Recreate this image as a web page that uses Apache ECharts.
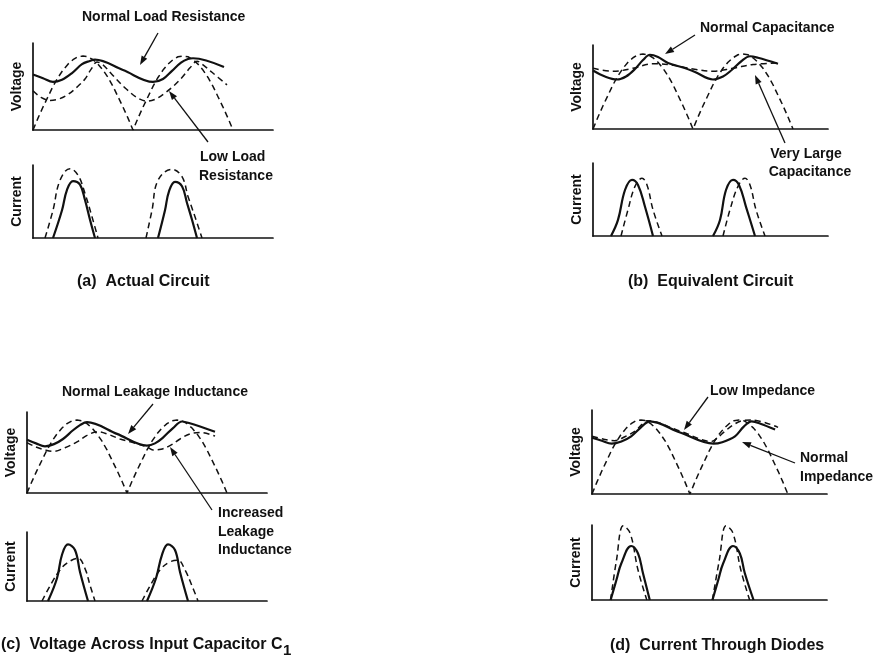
<!DOCTYPE html>
<html>
<head>
<meta charset="utf-8">
<script src="https://cdn.jsdelivr.net/npm/echarts@6/dist/echarts.min.js"></script>
<style>
  html, body { margin: 0; padding: 0; background: #fff; }
  #chart { width: 876px; height: 656px; }
</style>
</head>
<body>
<div id="chart"></div>
<script>
// x in half-cycles of the line voltage, y relative to peak
const fullWave = [
  [0, 0], [0.05, 0.16], [0.1, 0.31], [0.15, 0.45], [0.2, 0.59], [0.25, 0.71], [0.3, 0.81],
  [0.35, 0.89], [0.4, 0.95], [0.45, 0.99], [0.5, 1], [0.55, 0.99], [0.6, 0.95], [0.65, 0.89],
  [0.7, 0.81], [0.75, 0.71], [0.8, 0.59], [0.85, 0.45], [0.9, 0.31], [0.95, 0.16], [1, 0],
  [1.05, 0.16], [1.1, 0.31], [1.15, 0.45], [1.2, 0.59], [1.25, 0.71], [1.3, 0.81],
  [1.35, 0.89], [1.4, 0.95], [1.45, 0.99], [1.5, 1], [1.55, 0.99], [1.6, 0.95], [1.65, 0.89],
  [1.7, 0.81], [1.75, 0.71], [1.8, 0.59], [1.85, 0.45], [1.9, 0.31], [1.95, 0.16], [2, 0]
];

// (a) actual circuit
const aVoltNormal = [[0, 0.75], [0.1, 0.7], [0.2, 0.65], [0.29, 0.68], [0.39, 0.77], [0.49, 0.89], [0.56, 0.93], [0.62, 0.95], [0.9, 0.81], [1.2, 0.65], [1.3, 0.69], [1.39, 0.8], [1.48, 0.91], [1.55, 0.96], [1.6, 0.97], [1.91, 0.85]];
const aVoltLowLoad = [[0, 0.53], [0.08, 0.44], [0.17, 0.4], [0.26, 0.42], [0.35, 0.48], [0.44, 0.58], [0.52, 0.69], [0.58, 0.82], [0.64, 0.92], [0.7, 0.88], [0.79, 0.75], [0.92, 0.57], [1.05, 0.43], [1.14, 0.39], [1.23, 0.42], [1.32, 0.5], [1.41, 0.6], [1.49, 0.71], [1.57, 0.84], [1.64, 0.93], [1.71, 0.87], [1.79, 0.78], [1.94, 0.61]];
const aCurNormal = [
  [[0.2, 0], [0.29, 0.38], [0.34, 0.66], [0.4, 0.78], [0.47, 0.73], [0.52, 0.52], [0.57, 0.25], [0.62, 0]],
  [[1.25, 0], [1.32, 0.38], [1.36, 0.64], [1.42, 0.77], [1.49, 0.71], [1.54, 0.48], [1.59, 0.25], [1.64, 0]]
];
const aCurLowLoad = [
  [[0.12, 0], [0.2, 0.38], [0.27, 0.79], [0.37, 0.95], [0.45, 0.86], [0.52, 0.61], [0.59, 0.29], [0.65, 0]],
  [[1.13, 0], [1.19, 0.38], [1.25, 0.79], [1.39, 0.94], [1.49, 0.84], [1.55, 0.57], [1.62, 0.29], [1.69, 0]]
];

// (b) equivalent circuit
const bVoltNormal = [[0, 0.78], [0.12, 0.7], [0.24, 0.66], [0.33, 0.7], [0.42, 0.8], [0.5, 0.92], [0.57, 0.99], [0.65, 0.96], [0.75, 0.88], [0.9, 0.82], [1.02, 0.76], [1.2, 0.66], [1.3, 0.7], [1.39, 0.79], [1.48, 0.9], [1.57, 0.97], [1.65, 0.95], [1.85, 0.87]];
const bVoltLargeCap = [[0, 0.81], [0.2, 0.77], [0.4, 0.81], [0.6, 0.87], [0.8, 0.85], [1.0, 0.8], [1.2, 0.77], [1.4, 0.81], [1.6, 0.86], [1.85, 0.88]];
const bCurNormal = [
  [[0.18, 0], [0.25, 0.22], [0.32, 0.63], [0.39, 0.77], [0.45, 0.7], [0.52, 0.4], [0.6, 0]],
  [[1.2, 0], [1.27, 0.22], [1.33, 0.63], [1.4, 0.77], [1.46, 0.7], [1.53, 0.4], [1.62, 0]]
];
const bCurLargeCap = [
  [[0.28, 0], [0.35, 0.36], [0.42, 0.68], [0.49, 0.79], [0.54, 0.7], [0.6, 0.36], [0.69, 0]],
  [[1.3, 0], [1.37, 0.36], [1.45, 0.68], [1.52, 0.79], [1.57, 0.7], [1.63, 0.36], [1.72, 0]]
];

// (c) leakage inductance
const cVoltNormal = [[0, 0.73], [0.09, 0.68], [0.18, 0.64], [0.27, 0.67], [0.36, 0.74], [0.46, 0.86], [0.53, 0.93], [0.6, 0.97], [0.9, 0.81], [1.2, 0.65], [1.28, 0.68], [1.36, 0.76], [1.46, 0.89], [1.55, 0.98], [1.62, 0.96], [1.88, 0.84]];
const cVoltLeakage = [[0, 0.69], [0.09, 0.63], [0.18, 0.59], [0.26, 0.57], [0.38, 0.62], [0.5, 0.7], [0.6, 0.79], [0.71, 0.84], [0.82, 0.8], [0.93, 0.74], [1.06, 0.69], [1.2, 0.63], [1.26, 0.59], [1.34, 0.6], [1.43, 0.65], [1.53, 0.74], [1.63, 0.81], [1.73, 0.83], [1.88, 0.78]];
const cCurNormal = [
  [[0.21, 0], [0.3, 0.33], [0.35, 0.67], [0.41, 0.82], [0.48, 0.74], [0.53, 0.42], [0.61, 0]],
  [[1.2, 0], [1.29, 0.33], [1.35, 0.67], [1.41, 0.82], [1.48, 0.74], [1.53, 0.42], [1.61, 0]]
];
const cCurLeakage = [
  [[0.15, 0], [0.25, 0.27], [0.33, 0.45], [0.4, 0.55], [0.51, 0.62], [0.58, 0.47], [0.63, 0.23], [0.68, 0]],
  [[1.15, 0], [1.25, 0.27], [1.33, 0.45], [1.42, 0.56], [1.51, 0.59], [1.58, 0.45], [1.65, 0.22], [1.71, 0]]
];

// (d) source impedance
const dVoltNormal = [[0, 0.76], [0.1, 0.72], [0.2, 0.68], [0.3, 0.71], [0.4, 0.78], [0.5, 0.9], [0.59, 0.98], [0.9, 0.83], [1.24, 0.68], [1.33, 0.7], [1.46, 0.78], [1.55, 0.91], [1.63, 0.98], [1.72, 0.95], [1.87, 0.87]];
const dVoltLowImp = [[0, 0.78], [0.12, 0.74], [0.23, 0.72], [0.33, 0.77], [0.44, 0.85], [0.51, 0.94], [0.56, 0.99], [0.9, 0.85], [1.22, 0.71], [1.29, 0.77], [1.36, 0.85], [1.45, 0.94], [1.53, 0.99], [1.63, 1.0], [1.9, 0.9]];
const dCurNormal = [
  [[0.19, 0], [0.25, 0.27], [0.3, 0.49], [0.4, 0.72], [0.47, 0.62], [0.52, 0.36], [0.59, 0]],
  [[1.23, 0], [1.29, 0.27], [1.34, 0.49], [1.44, 0.72], [1.51, 0.62], [1.56, 0.36], [1.65, 0]]
];
const dCurLowImp = [
  [[0.19, 0], [0.25, 0.53], [0.32, 0.99], [0.39, 0.89], [0.47, 0.4], [0.56, 0]],
  [[1.23, 0], [1.3, 0.53], [1.37, 0.99], [1.44, 0.89], [1.52, 0.4], [1.61, 0]]
];

const INK = '#111';
const FONT = "'Liberation Sans', Arial, sans-serif";

// grid boxes: voltage/current for a, b, c, d
const boxes = [
  { left: 33, top: 43, width: 240, height: 87, xmax: 2.4, ymax: 1.176, name: 'Voltage' },
  { left: 33, top: 165, width: 240, height: 73, xmax: 2.4, ymax: 1, name: 'Current' },
  { left: 593, top: 45, width: 235, height: 84, xmax: 2.35, ymax: 1.12, name: 'Voltage' },
  { left: 593, top: 163, width: 235, height: 73, xmax: 2.35, ymax: 1, name: 'Current' },
  { left: 27, top: 412, width: 240, height: 81, xmax: 2.4, ymax: 1.11, name: 'Voltage' },
  { left: 27, top: 532, width: 240, height: 69, xmax: 2.4, ymax: 1, name: 'Current' },
  { left: 592, top: 410, width: 235, height: 84, xmax: 2.4, ymax: 1.135, name: 'Voltage' },
  { left: 592, top: 525, width: 235, height: 75, xmax: 2.4, ymax: 1, name: 'Current' }
];

const axisLine = { show: true, lineStyle: { color: INK, width: 1.7 } };

const grid = boxes.map(b => ({ left: b.left, top: b.top, width: b.width, height: b.height }));
const xAxis = boxes.map((b, i) => ({
  type: 'value', gridIndex: i, min: 0, max: b.xmax,
  axisLine, axisTick: { show: false }, axisLabel: { show: false }, splitLine: { show: false }
}));
const yAxis = boxes.map((b, i) => ({
  type: 'value', gridIndex: i, min: 0, max: b.ymax,
  axisLine, axisTick: { show: false }, axisLabel: { show: false }, splitLine: { show: false },
  name: b.name, nameLocation: 'middle', nameRotate: 90, nameGap: 9,
  nameTextStyle: { color: INK, fontFamily: FONT, fontWeight: 'bold', fontSize: 14 }
}));

// pulses -> one line with gaps between them
const joinPulses = pulses => pulses.flatMap((p, i) => i ? [[p[0][0], '-'], ...p] : p);

function line(idx, data, dashed, smooth) {
  return {
    type: 'line', xAxisIndex: idx, yAxisIndex: idx, data,
    showSymbol: false, symbol: 'none', smooth: smooth, connectNulls: false,
    lineStyle: dashed ? { color: INK, width: 1.5, type: [6, 4] } : { color: INK, width: 2.2 },
    z: dashed ? 2 : 3
  };
}

const series = [
  line(0, fullWave, true, false), line(0, aVoltNormal, false, 0.35), line(0, aVoltLowLoad, true, 0.35),
  line(1, joinPulses(aCurNormal), false, 0.4), line(1, joinPulses(aCurLowLoad), true, 0.4),
  line(2, fullWave, true, false), line(2, bVoltNormal, false, 0.35), line(2, bVoltLargeCap, true, 0.4),
  line(3, joinPulses(bCurNormal), false, 0.4), line(3, joinPulses(bCurLargeCap), true, 0.4),
  line(4, fullWave, true, false), line(4, cVoltNormal, false, 0.35), line(4, cVoltLeakage, true, 0.35),
  line(5, joinPulses(cCurNormal), false, 0.4), line(5, joinPulses(cCurLeakage), true, 0.4),
  line(6, fullWave, true, false), line(6, dVoltNormal, false, 0.35), line(6, dVoltLowImp, true, 0.35),
  line(7, joinPulses(dCurNormal), false, 0.4), line(7, joinPulses(dCurLowImp), true, 0.4)
];

function label(text, x, y, align, size) {
  return {
    type: 'text', x, y,
    style: { text, fill: INK, font: 'bold ' + (size || 14) + 'px ' + FONT, textAlign: align || 'left', textVerticalAlign: 'middle' }
  };
}

function arrow(x1, y1, x2, y2) {
  const a = Math.atan2(y2 - y1, x2 - x1), L = 9, W = 3.2;
  const bx = x2 - L * Math.cos(a), by = y2 - L * Math.sin(a);
  return {
    type: 'group', children: [
      { type: 'line', shape: { x1, y1, x2: bx, y2: by }, style: { stroke: INK, lineWidth: 1.3 } },
      { type: 'polygon', shape: { points: [[x2, y2], [bx + W * Math.sin(a), by - W * Math.cos(a)], [bx - W * Math.sin(a), by + W * Math.cos(a)]] }, style: { fill: INK } }
    ]
  };
}

const graphic = [
  label('Normal Load Resistance', 82, 17),
  arrow(158, 33, 140, 65),
  label('Low Load', 200, 157), label('Resistance', 199, 176),
  arrow(208, 142, 169, 91),
  label('(a)  Actual Circuit', 77, 282, 'left', 16),

  label('Normal Capacitance', 700, 28),
  arrow(695, 35, 665, 54),
  label('Very Large', 806, 154, 'center'), label('Capacitance', 810, 172, 'center'),
  arrow(785, 143, 755, 75),
  label('(b)  Equivalent Circuit', 628, 282, 'left', 16),

  label('Normal Leakage Inductance', 62, 392),
  arrow(153, 404, 128, 434),
  label('Increased', 218, 513), label('Leakage', 218, 532), label('Inductance', 218, 550),
  arrow(212, 510, 170, 447),
  label('(c)  Voltage Across Input Capacitor C', 1, 645, 'left', 16),
  label('1', 283, 651, 'left', 15),

  label('Low Impedance', 710, 391),
  arrow(708, 397, 684, 430),
  label('Normal', 800, 458), label('Impedance', 800, 477),
  arrow(795, 463, 742, 442),
  label('(d)  Current Through Diodes', 610, 646, 'left', 16)
];

const chart = echarts.init(document.getElementById('chart'), null, { renderer: 'canvas' });
chart.setOption({
  backgroundColor: '#fff',
  animation: false,
  grid, xAxis, yAxis, series, graphic
});
</script>
</body>
</html>
